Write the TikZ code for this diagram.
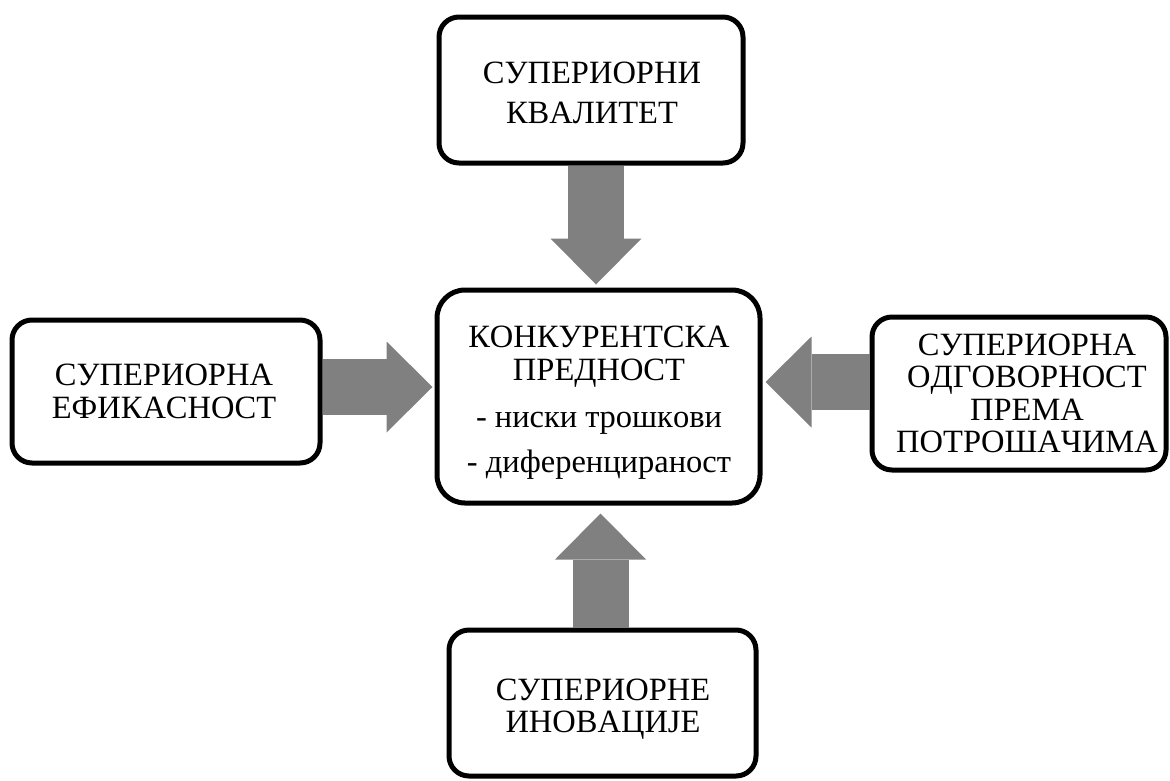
\documentclass[tikz,border=0pt]{standalone}
\usepackage{fontspec}
\setmainfont{Liberation Serif}[Kerning=Off]
\usetikzlibrary{arrows.meta}
\definecolor{arrowgray}{HTML}{808080}
\tikzset{
  box/.style={draw=black, line width=5pt, rounded corners=20pt, fill=white, inner sep=0pt},
  centerbox/.style={box, rounded corners=28pt},
  txt/.style={anchor=base, inner sep=0pt, font=\fontsize{32.5}{39}\selectfont},
  flow/.style={draw=arrowgray, line width=56pt,
    -{Triangle[width=91pt,length=46pt,line width=0pt]}},
}
\begin{document}
\begin{tikzpicture}[x=1pt,y=-1pt]
\useasboundingbox (0,0) rectangle (1170,780);
% boxes
\node[box, minimum width=304pt, minimum height=146pt] (top) at (591,90) {};
\node[centerbox, minimum width=323pt, minimum height=213pt] (center) at (598.5,396.5) {};
\node[box, minimum width=308pt, minimum height=143pt] (left) at (166,391.5) {};
\node[box, minimum width=294pt, minimum height=153pt] (right) at (1019,393.5) {};
\node[box, minimum width=307pt, minimum height=146pt] (bottom) at (602.5,703) {};
% texts
\node[txt] (t1) at (592,83) {СУПЕРИОРНИ};
\node[txt] (t2) at (592,123) {КВАЛИТЕТ};
\node[txt] (l1) at (164,385) {СУПЕРИОРНА};
\node[txt] (l2) at (164,418) {ЕФИКАСНОСТ};
\node[txt] (r1) at (1027,355) {СУПЕРИОРНА};
\node[txt] (r2) at (1027,387) {ОДГОВОРНОСТ};
\node[txt] (r3) at (1027,420) {ПРЕМА};
\node[txt] (r4) at (1027,452) {ПОТРОШАЧИМА};
\node[txt] (c1) at (599,347) {КОНКУРЕНТСКА};
\node[txt] (c2) at (599,380) {ПРЕДНОСТ};
\node[txt] (c3) at (599,427) {- ниски трошкови};
\node[txt] (c4) at (599,472) {- диференцираност};
\node[txt] (b1) at (603,700) {СУПЕРИОРНЕ};
\node[txt] (b2) at (603,732) {ИНОВАЦИЈЕ};
% arrow guides
\coordinate (vx) at (596,0);
\coordinate (bx) at (600.5,0);
\coordinate (ly) at (0,387);
\coordinate (ry) at (0,382);
% arrows
\draw[flow, shorten >=3pt] (top.south -| vx) -- (center.north -| vx);
\draw[flow, shorten >=8pt] (bottom.north -| bx) -- (center.south -| bx);
\draw[flow, shorten >=2pt] (left.east |- ly) -- (center.west |- ly);
\draw[flow, shorten >=3pt] (right.west |- ry) -- (center.east |- ry);
\end{tikzpicture}
\end{document}
